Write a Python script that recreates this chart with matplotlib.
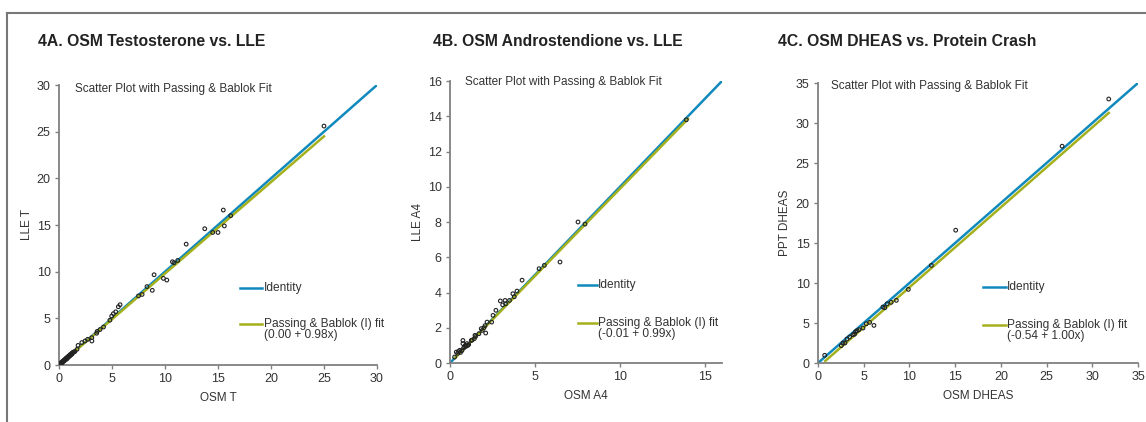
import matplotlib.pyplot as plt
from matplotlib.lines import Line2D

plt.rcParams['font.family'] = ['Liberation Sans', 'DejaVu Sans']

# 4A: OSM T vs LLE T
a_x = [0.05, 0.1, 0.15, 0.2, 0.25, 0.3, 0.35, 0.4, 0.45, 0.5, 0.55, 0.6, 0.65, 0.7, 0.75,
       0.8, 0.85, 0.9, 0.95, 1.0, 1.05, 1.1, 1.15, 1.2, 1.25, 1.3, 1.4, 1.5,
       1.7, 1.8, 2.15, 2.45, 2.7, 3.1, 3.1, 3.55, 3.6, 3.87, 4.2, 4.8, 4.97, 5.13, 5.35,
       5.6, 5.76, 7.5, 7.84, 8.3, 8.8, 8.97, 9.85, 10.17, 10.7, 10.85, 11.2, 12.0,
       13.75, 14.5, 15.0, 15.5, 15.6, 16.2, 25.0]
a_y = [0.08, 0.12, 0.2, 0.15, 0.3, 0.25, 0.4, 0.35, 0.5, 0.45, 0.6, 0.55, 0.7, 0.75, 0.65,
       0.85, 0.8, 0.95, 0.9, 1.05, 1.0, 1.15, 1.1, 1.25, 1.2, 1.35, 1.4, 1.45,
       1.68, 2.1, 2.4, 2.57, 2.75, 2.93, 2.57, 3.4, 3.6, 3.8, 4.07, 4.8, 5.24, 5.5, 5.7,
       6.24, 6.46, 7.4, 7.56, 8.4, 8.0, 9.67, 9.28, 9.1, 11.06, 10.95, 11.2, 12.95,
       14.6, 14.2, 14.2, 16.6, 14.9, 16.0, 25.6]
a_fit = (0.00, 0.98, 0.0, 25.0)

# 4B: OSM A4 vs LLE A4
b_x = [0.27, 0.37, 0.45, 0.5, 0.57, 0.62, 0.7, 0.76, 0.76, 0.8, 0.86, 0.9, 0.95, 1.0, 1.05,
       1.1, 1.25, 1.3, 1.43, 1.47, 1.5, 1.7, 1.84, 1.9, 2.0, 2.06, 2.1, 2.18, 2.45, 2.53,
       2.7, 2.96, 3.1, 3.24, 3.27, 3.5, 3.7, 3.78, 3.94, 4.24, 5.24, 5.55, 6.47, 7.53,
       7.94, 13.9]
b_y = [0.34, 0.62, 0.55, 0.65, 0.72, 0.6, 0.7, 1.28, 1.1, 0.85, 0.91, 1.0, 0.95, 1.1, 1.0,
       1.05, 1.28, 1.3, 1.38, 1.57, 1.5, 1.66, 1.95, 1.85, 2.0, 2.12, 1.7, 2.32, 2.32, 2.7,
       2.99, 3.52, 3.3, 3.55, 3.36, 3.55, 3.93, 3.76, 4.08, 4.7, 5.35, 5.54, 5.73, 8.0,
       7.88, 13.8]
b_fit = (-0.01, 0.99, 0.3, 14.0)

# 4C: OSM DHEAS vs PPT DHEAS
c_x = [0.73, 2.55, 2.73, 2.95, 3.17, 3.46, 3.83, 4.0, 4.1, 4.27, 4.48, 4.92, 5.28, 5.65,
       6.12, 7.1, 7.3, 7.55, 8.0, 8.57, 9.88, 12.4, 15.06, 26.7, 31.8]
c_y = [0.96, 2.17, 2.5, 2.5, 3.0, 3.25, 3.54, 3.6, 3.9, 4.04, 4.17, 4.37, 4.9, 5.08,
       4.7, 7.0, 6.9, 7.4, 7.58, 7.83, 9.2, 12.2, 16.6, 27.1, 33.0]
c_fit = (-0.54, 1.00, 0.8, 31.8)

panels = [
    dict(title='4A. OSM Testosterone vs. LLE', x=a_x, y=a_y, fit=a_fit, lim=30, step=5,
         xlabel='OSM T', ylabel='LLE T', eq='(0.00 + 0.98x)',
         pos=[59, 85, 377, 365], tx=38, leg=(0.569, 0.275, 0.146), sub=(0.05, 0.985)),
    dict(title='4B. OSM Androstendione vs. LLE', x=b_x, y=b_y, fit=b_fit, lim=16, step=2,
         xlabel='OSM A4', ylabel='LLE A4', eq='(-0.01 + 0.99x)',
         pos=[450, 81, 722, 363], tx=433, leg=(0.47, 0.277, 0.142), sub=(0.055, 0.996)),
    dict(title='4C. OSM DHEAS vs. Protein Crash', x=c_x, y=c_y, fit=c_fit, lim=35, step=5,
         xlabel='OSM DHEAS', ylabel='PPT DHEAS', eq='(-0.54 + 1.00x)',
         pos=[818, 83, 1138, 363], tx=778, leg=(0.516, 0.271, 0.136), sub=(0.04, 0.99)),
]

W, H = 1146, 422
blue = '#1089bd'
green = '#a4b01c'
grey = '#808080'
txt = '#333333'

fig = plt.figure(figsize=(W / 100, H / 100), dpi=100)

# partial frame around the figure
fig.add_artist(Line2D([7 / W, 1], [1 - 13 / H, 1 - 13 / H], color='#777777', lw=1.5))
fig.add_artist(Line2D([7 / W, 7 / W], [0, 1 - 13 / H], color='#777777', lw=1.5))

for p in panels:
    x0, y0, x1, y1 = p['pos']
    ax = fig.add_axes([x0 / W, 1 - y1 / H, (x1 - x0) / W, (y1 - y0) / H])
    lim = p['lim']
    ax.plot([0, lim], [0, lim], color=blue, lw=1.8, zorder=2)
    b0, b1, xs, xe = p['fit']
    ax.plot([xs, xe], [b0 + b1 * xs, b0 + b1 * xe], color=green, lw=1.8, zorder=3)
    ax.scatter(p['x'], p['y'], s=7, facecolors='none', edgecolors='#222222',
               linewidths=0.8, zorder=4)
    ax.set_xlim(0, lim)
    ax.set_ylim(0, lim)
    if lim == 16:
        ax.set_xticks([0, 5, 10, 15])
    else:
        ax.set_xticks(range(0, lim + 1, p['step']))
    ax.set_yticks(range(0, lim + 1, p['step']))
    for s in ['top', 'right']:
        ax.spines[s].set_visible(False)
    for s in ['left', 'bottom']:
        ax.spines[s].set_color(grey)
        ax.spines[s].set_linewidth(1.3)
    ax.tick_params(colors=grey, labelcolor=txt, labelsize=9, length=3, width=1, pad=3)
    ax.set_xlabel(p['xlabel'], fontsize=8.5, color=txt, labelpad=5)
    ax.set_ylabel(p['ylabel'], fontsize=8.5, color=txt, labelpad=3)
    ax.text(p['sub'][0], p['sub'][1], 'Scatter Plot with Passing & Bablok Fit',
            transform=ax.transAxes, fontsize=8.5, color=txt, va='center', ha='left')
    # legend drawn by hand
    lx, ly1, ly2 = p['leg']
    ax.plot([lx, lx + 0.07], [ly1, ly1], color=blue, lw=1.8, transform=ax.transAxes,
            clip_on=False)
    ax.text(lx + 0.075, ly1, 'Identity', transform=ax.transAxes, fontsize=8.6,
            color=txt, va='center')
    ax.plot([lx, lx + 0.07], [ly2, ly2], color=green, lw=1.8, transform=ax.transAxes,
            clip_on=False)
    ax.text(lx + 0.075, ly2, 'Passing & Bablok (I) fit', transform=ax.transAxes,
            fontsize=8.6, color=txt, va='center')
    ax.text(lx + 0.075, ly2 - 0.04, p['eq'], transform=ax.transAxes,
            fontsize=8.6, color=txt, va='center')
    fig.text(p['tx'] / W, 1 - 41 / H, p['title'], fontsize=11.3, fontweight='bold',
             color='#222222', va='center', ha='left')

fig.savefig('out.png', dpi=100)
